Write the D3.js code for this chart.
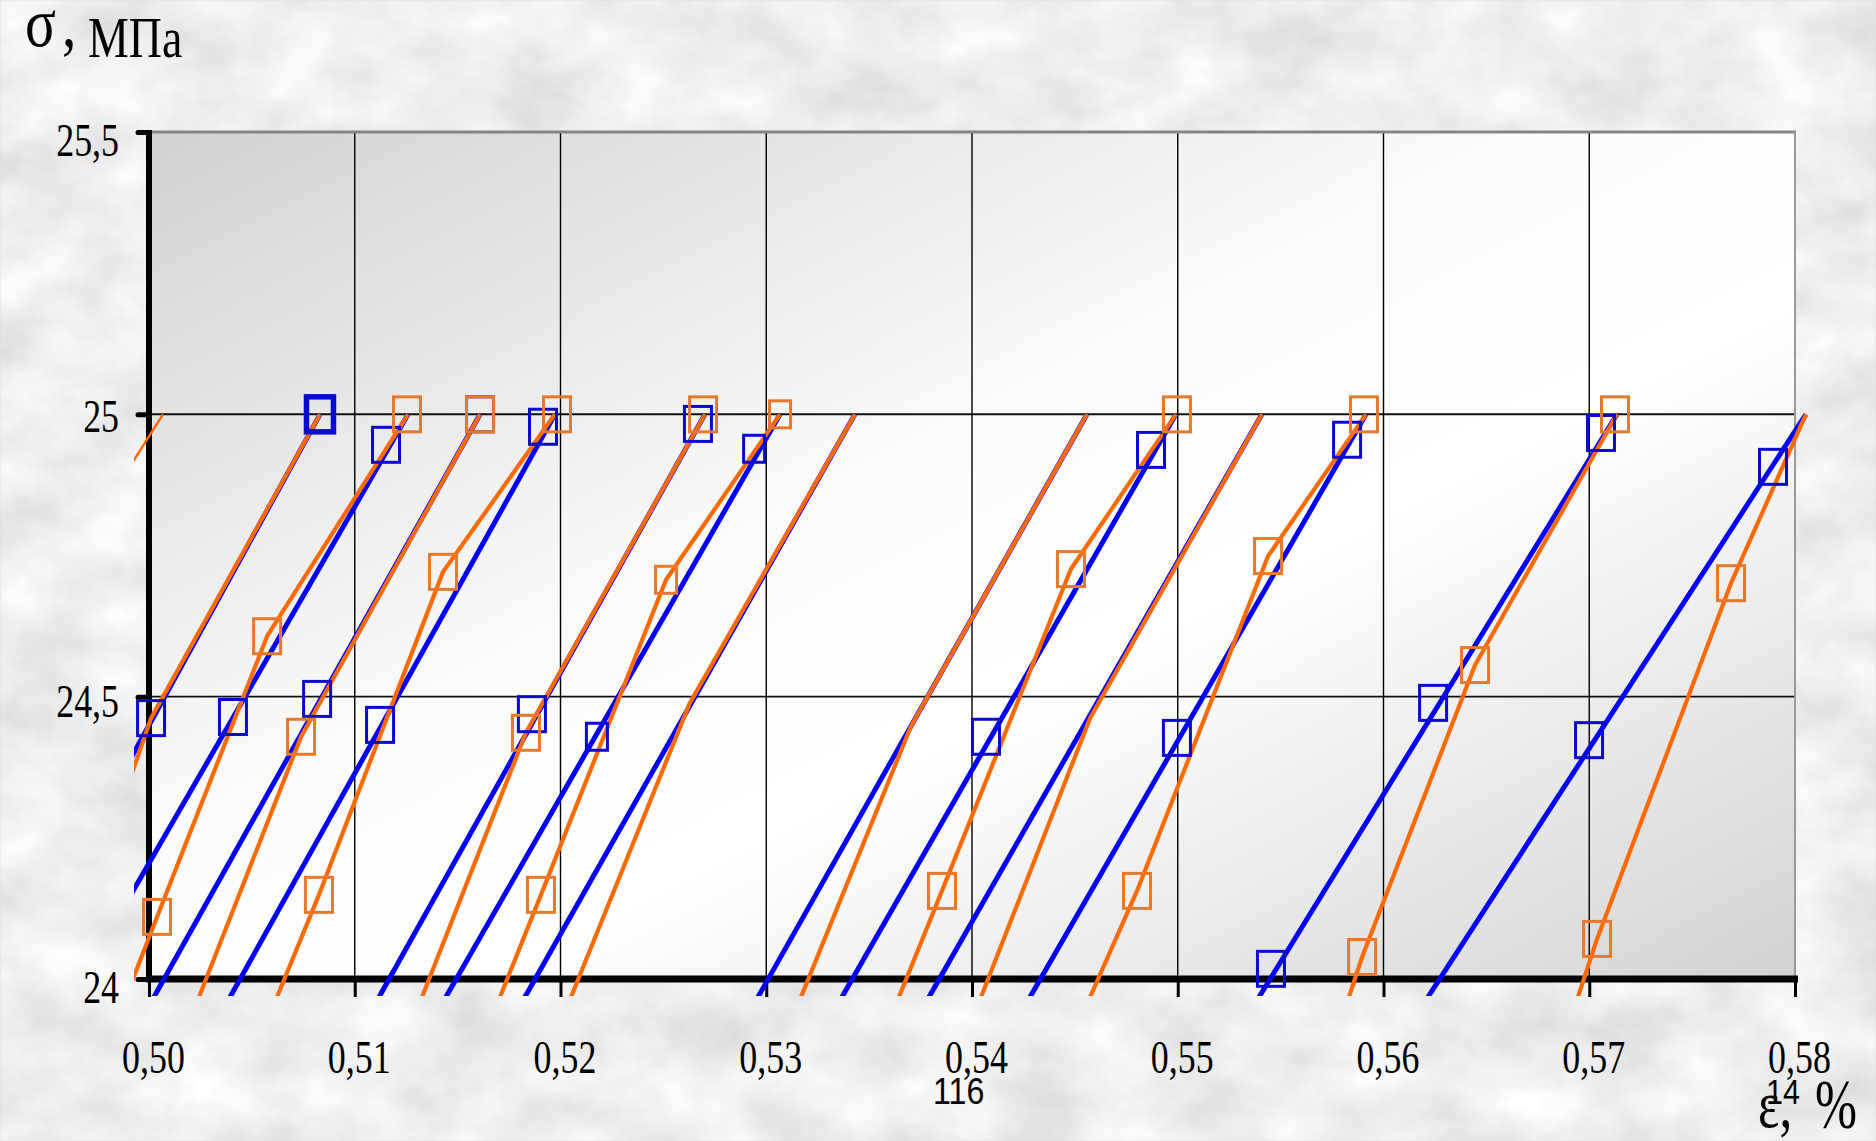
<!DOCTYPE html>
<html><head><meta charset="utf-8">
<script src="https://cdn.jsdelivr.net/npm/d3@7"></script>
<style>html,body{margin:0;padding:0;background:#dadada;overflow:hidden}</style>
</head><body>
<svg id="c" width="1876" height="1141"></svg>
<script>
// ---------- data ----------
const xTicks = [0.50, 0.51, 0.52, 0.53, 0.54, 0.55, 0.56, 0.57, 0.58];
const xTickLabels = ["0,50","0,51","0,52","0,53","0,54","0,55","0,56","0,57","0,58"];
const yTicks = [24, 24.5, 25, 25.5];
const yTickLabels = ["24","24,5","25","25,5"];

// blue (calculated) loading lines: [strain %, stress MPa]
const blueLines = [
  [[0.49859,24.356],[0.50831,25]],
  [[0.49859,24.116],[0.51259,25]],
  [[0.50024,23.968],[0.51609,25]],
  [[0.50394,23.968],[0.51973,25]],
  [[0.51118,23.968],[0.52702,25]],
  [[0.51443,23.968],[0.53067,25]],
  [[0.51827,23.968],[0.53431,25]],
  [[0.52960,23.968],[0.54559,25]],
  [[0.53368,23.968],[0.54991,25]],
  [[0.53791,23.968],[0.55409,25]],
  [[0.54282,23.968],[0.55915,25]],
  [[0.55395,23.968],[0.57135,25]],
  [[0.56216,23.968],[0.58053,25]]
];
// orange (experimental) loading lines
const orangeLines = [
  [[0.49859,24.880],[0.50068,25]],
  [[0.49859,24.303],[0.50010,24.462],[0.50831,25]],
  [[0.49888,23.968],[0.50039,24.110],[0.50574,24.607],[0.51259,25]],
  [[0.50243,23.968],[0.50739,24.429],[0.51609,25]],
  [[0.50622,23.968],[0.50826,24.149],[0.51429,24.721],[0.51973,25]],
  [[0.51327,23.968],[0.51832,24.436],[0.52702,25]],
  [[0.51706,23.968],[0.51905,24.149],[0.52513,24.707],[0.53067,25]],
  [[0.52051,23.968],[0.52629,24.489],[0.53431,25]],
  [[0.53169,23.968],[0.53704,24.448],[0.54559,25]],
  [[0.53645,23.968],[0.53854,24.156],[0.54481,24.726],[0.54991,25]],
  [[0.54044,23.968],[0.54574,24.462],[0.55409,25]],
  [[0.54574,23.968],[0.54802,24.156],[0.55439,24.749],[0.55915,25]],
  [[0.55832,23.968],[0.55896,24.039],[0.56445,24.556],[0.57135,25]],
  [[0.56945,23.968],[0.57038,24.071],[0.57689,24.701],[0.58053,25]]
];
const blueMarkers = [
  [0.50831,25.0],[0.50010,24.462],[0.51152,24.946],[0.50408,24.464],
  [0.51609,25.0],[0.50817,24.496],[0.51915,24.978],[0.51123,24.450],
  [0.52668,24.983],[0.51861,24.469],[0.52941,24.939],[0.52177,24.429],
  [0.54870,24.937],[0.54068,24.429],[0.55823,24.955],[0.54996,24.427],
  [0.57057,24.967],[0.56241,24.489],[0.55453,24.018],[0.57893,24.907],
  [0.56999,24.423]
];
const orangeMarkers = [
  [0.51254,25.0],[0.50574,24.607],[0.50039,24.110],[0.51609,25.0],
  [0.50739,24.429],[0.51983,25.0],[0.51429,24.721],[0.50826,24.149],
  [0.52693,25.0],[0.51832,24.436],[0.53067,25.0],[0.52513,24.707],
  [0.51905,24.149],[0.54996,25.0],[0.54481,24.726],[0.53854,24.156],
  [0.55905,25.0],[0.55439,24.749],[0.54802,24.156],[0.57125,25.0],
  [0.56445,24.556],[0.55896,24.039],[0.57689,24.701],[0.57038,24.071]
];

// ---------- style / layout ----------
const W = 1876, H = 1141;
const BLUE = "#0000ff", BLUE_MK = "#0a0ad0", ORANGE = "#ff6a00", ORANGE_MK = "#e8782c";
const SMALL_BLUE = new Set([10, 11]);
const SMALL_ORANGE = new Set([10, 11]);
const BOLD_BLUE = new Set([0]);
const yLabelDy = [23, 20, 17, 23];
const SERIF = "'Liberation Serif','Times New Roman',serif";
const SANS = "'Liberation Sans',Arial,sans-serif";

const svg = d3.select("#c");
const defs = svg.append("defs");

// marble background texture
const flt = defs.append("filter").attr("id","marble")
  .attr("filterUnits","userSpaceOnUse").attr("x",0).attr("y",0).attr("width",W).attr("height",H);
flt.append("feTurbulence").attr("type","fractalNoise").attr("baseFrequency","0.012 0.016")
  .attr("numOctaves",5).attr("seed",11).attr("result","n");
flt.append("feColorMatrix").attr("type","matrix")
  .attr("values","0.36 0 0 0 0.68  0.36 0 0 0 0.68  0.36 0 0 0 0.68  0 0 0 0 1");
flt.append("feGaussianBlur").attr("stdDeviation",1.2);
svg.append("rect").attr("width",W).attr("height",H).attr("filter","url(#marble)");

// plot gradient
const gr = defs.append("linearGradient").attr("id","pg").attr("x1",0).attr("y1",0).attr("x2",1).attr("y2",1);
[[0,"#d2d2d2"],[0.42,"#fbfbfb"],[0.6,"#ffffff"],[1,"#d3d3d3"]].forEach(s =>
  gr.append("stop").attr("offset",s[0]).attr("stop-color",s[1]));

const x = d3.scaleLinear().domain([0.50, 0.58]).range([149, 1795]);
const y = d3.scaleLinear().domain([24, 25.5]).range([979, 132]);

svg.append("rect").attr("x",x(0.50)).attr("y",y(25.5))
  .attr("width",x(0.58)-x(0.50)).attr("height",y(24)-y(25.5)).attr("fill","url(#pg)");

// grid
const grid = svg.append("g");
grid.selectAll("line.v").data(xTicks.slice(1,-1)).join("line")
  .attr("x1",d=>x(d)).attr("x2",d=>x(d)).attr("y1",y(25.5)).attr("y2",y(24))
  .attr("stroke","#000").attr("stroke-width",1.4);
grid.selectAll("line.h").data([24.5, 25]).join("line")
  .attr("x1",x(0.50)).attr("x2",x(0.58)).attr("y1",d=>y(d)).attr("y2",d=>y(d))
  .attr("stroke","#111").attr("stroke-width",d=>d===25?2:1.6);
svg.append("line").attr("x1",x(0.50)).attr("x2",x(0.58)+1).attr("y1",y(25.5)).attr("y2",y(25.5))
  .attr("stroke","#858585").attr("stroke-width",3);
svg.append("line").attr("x1",x(0.58)).attr("x2",x(0.58)).attr("y1",y(25.5)).attr("y2",y(24))
  .attr("stroke","#9a9a9a").attr("stroke-width",2);

// axes
const gx = svg.append("g").attr("transform",`translate(0,${y(24)})`)
  .call(d3.axisBottom(x).tickValues(xTicks).tickFormat((d,i)=>xTickLabels[i]).tickSize(18).tickSizeOuter(0));
gx.select(".domain").attr("d",`M${x(0.50)-3},0H${x(0.58)+3}`).attr("stroke","#000").attr("stroke-width",7);
gx.selectAll(".tick line").attr("stroke","#000").attr("stroke-width",3);
gx.selectAll(".tick text").attr("font-family",SERIF).attr("font-size",46).attr("fill","#000")
  .attr("y",94).attr("dy",0).attr("x",4/0.78).attr("transform","scale(0.78,1)");

const gy = svg.append("g").attr("transform",`translate(${x(0.50)},0)`)
  .call(d3.axisLeft(y).tickValues(yTicks).tickFormat((d,i)=>yTickLabels[i]).tickSize(11).tickSizeOuter(0));
gy.select(".domain").attr("d",`M0,${y(25.5)-2}V${y(24)+3}`).attr("stroke","#000").attr("stroke-width",6);
gy.selectAll(".tick line").attr("stroke","#000").attr("stroke-width",5).attr("stroke-linecap","round");
gy.selectAll(".tick text").attr("font-family",SERIF).attr("font-size",46).attr("fill","#000")
  .attr("x",(119-149)/0.78).attr("dy",0).attr("y",(d,i)=>yLabelDy[i])
  .attr("text-anchor","end").attr("transform","scale(0.78,1)");

// lines
defs.append("clipPath").attr("id","clip").append("rect")
  .attr("x",134).attr("y",100).attr("width",1812-134).attr("height",996-100);
const line = d3.line().x(d=>x(d[0])).y(d=>y(d[1]));
const lg = svg.append("g").attr("clip-path","url(#clip)");
lg.selectAll("path.b").data(blueLines).join("path").attr("class","b")
  .attr("d",line).attr("fill","none").attr("stroke",BLUE).attr("stroke-width",5);
lg.selectAll("path.o").data(orangeLines).join("path").attr("class","o")
  .attr("d",line).attr("fill","none").attr("stroke",ORANGE)
  .attr("stroke-width",(d,i)=>i===0?2.5:4.2).attr("stroke-linejoin","round");

// markers
const mg = svg.append("g").attr("fill","none");
function mw(small){return small?21:27;} function mh(small){return small?27:35;}
mg.selectAll("rect.b").data(blueMarkers).join("rect").attr("class","b")
  .attr("x",(d,i)=>x(d[0])-mw(SMALL_BLUE.has(i))/2).attr("y",(d,i)=>y(d[1])-mh(SMALL_BLUE.has(i))/2)
  .attr("width",(d,i)=>mw(SMALL_BLUE.has(i))).attr("height",(d,i)=>mh(SMALL_BLUE.has(i)))
  .attr("stroke",BLUE_MK).attr("stroke-width",(d,i)=>BOLD_BLUE.has(i)?5.5:3);
mg.selectAll("rect.o").data(orangeMarkers).join("rect").attr("class","o")
  .attr("x",(d,i)=>x(d[0])-mw(SMALL_ORANGE.has(i))/2).attr("y",(d,i)=>y(d[1])-mh(SMALL_ORANGE.has(i))/2)
  .attr("width",(d,i)=>mw(SMALL_ORANGE.has(i))).attr("height",(d,i)=>mh(SMALL_ORANGE.has(i)))
  .attr("stroke",ORANGE_MK).attr("stroke-width",3);

// titles and texts
svg.append("text").attr("transform","translate(25,46) scale(0.82,1)")
  .attr("font-family",SERIF).attr("font-size",70).attr("fill","#000").text("σ");
svg.append("text").attr("transform","translate(62,46) scale(0.82,1)")
  .attr("font-family",SERIF).attr("font-size",70).attr("fill","#000").text(",");
svg.append("text").attr("transform","translate(88,57) scale(0.82,1)")
  .attr("font-family",SERIF).attr("font-size",56).attr("fill","#000").text("МПа");

svg.append("text").attr("transform","translate(933,1104) scale(0.87,1)")
  .attr("font-family",SANS).attr("font-size",37).attr("fill","#000").text("116");
svg.append("text").attr("transform","translate(1766,1104) scale(0.87,1)")
  .attr("font-family",SANS).attr("font-size",35).attr("fill","#000").text("14");
svg.append("text").attr("transform","translate(1758,1127) scale(0.75,1)")
  .attr("font-family",SERIF).attr("font-size",68).attr("fill","#000").text("ε,");
svg.append("text").attr("transform","translate(1815,1128) scale(0.72,1)")
  .attr("font-family",SERIF).attr("font-size",70).attr("fill","#000").text("%");
</script>
</body></html>
